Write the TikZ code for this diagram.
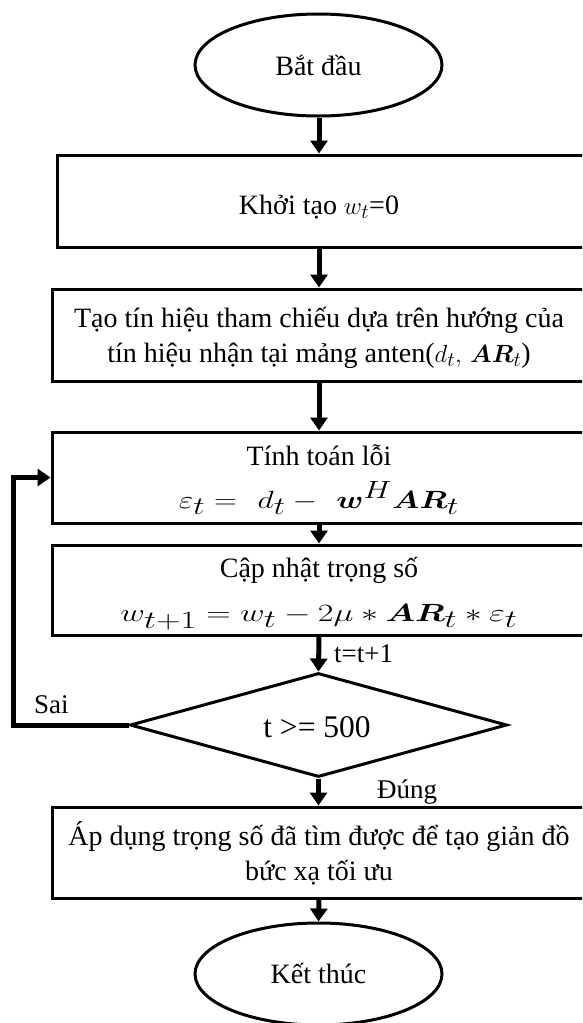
\documentclass[tikz,border=0pt]{standalone}
\usepackage{fontspec}
\setmainfont{Liberation Serif}
\usepackage{amsmath,bm,graphicx}
\usetikzlibrary{shapes.geometric,arrows.meta,calc}
\begin{document}
\begin{tikzpicture}[x=1pt,y=-1pt,
  boxst/.style={draw, line width=3pt, rectangle, inner sep=0pt, minimum width=620pt},
  ell/.style={draw, ellipse, line width=3pt, minimum width=247pt, minimum height=102pt, inner sep=0pt},
  arr/.style={line width=5pt, -{Triangle[width=17pt,length=13pt]}},
  txt/.style={font=\fontsize{28}{35}\selectfont, align=center, inner sep=0pt, anchor=base},
  lbl/.style={font=\fontsize{27}{30}\selectfont, inner sep=0pt, anchor=base},
  mth/.style={font=\fontsize{38}{40}\selectfont, inner sep=0pt, anchor=base}
]
\clip (0,0) rectangle (582,1023);
\coordinate (ax) at (319,0);
\coordinate (lx) at (13,0);

\node[ell] (start) at (318.5,65) {};
\node[boxst, minimum height=92pt] (box1) at (367.5,201) {};
\node[boxst, minimum height=92pt] (box2) at (362,335) {};
\node[boxst, minimum height=91pt] (box3) at (362,477.5) {};
\node[boxst, minimum height=90pt] (box4) at (362,590) {};
\node[draw, diamond, line width=3pt, minimum width=377pt, minimum height=104pt, inner sep=0pt] (dec) at (318.5,725) {};
\node[boxst, minimum height=91pt] (box5) at (362,852.5) {};
\node[ell] (stop) at (318.5,974) {};

\node[txt] (s0) at (318.5,75) {Bắt đầu};
\node[txt] (t1) at (319,214) {Khởi tạo {\fontsize{31}{35}\selectfont$w_t$}=0};
\node[txt] (t2a) at (319,327) {Tạo tín hiệu tham chiếu dựa trên hướng của};
\node[txt] (t2b) at (319,362) {tín hiệu nhận tại mảng anten({\fontsize{31}{35}\selectfont$d_t,\,\bm{AR}_t$})};
\node[txt] (t3a) at (319,465) {Tính toán lỗi};
\node[mth] (t3b) at (319,508) {\resizebox{280pt}{\height}{$\varepsilon_t =\ d_t -\ \bm{w}^H\bm{AR}_t$}};
\node[txt] (t4a) at (319,577) {Cập nhật trọng số};
\node[mth] (t4b) at (319,621) {\resizebox{397pt}{\height}{$w_{t+1} = w_t - 2\mu * \bm{AR}_t * \varepsilon_t$}};
\node[font=\fontsize{31.5}{35}\selectfont, inner sep=0pt, anchor=base] (dt) at (317,737) {t >= 500};
\node[txt] (t5a) at (319,845) {Áp dụng trọng số đã tìm được để tạo giản đồ};
\node[txt] (t5b) at (319,880) {bức xạ tối ưu};
\node[txt] (e0) at (318.5,983) {Kết thúc};

\draw[arr] (start.south -| ax) -- (box1.north -| ax);
\draw[arr] (box1.south -| ax) -- (box2.north -| ax);
\draw[arr] (box2.south -| ax) -- (box3.north -| ax);
\draw[arr] (box3.south -| ax) -- (box4.north -| ax);
\draw[arr] (box4.south -| ax) -- (dec.north);
\draw[arr] (dec.south) -- (dec.south |- box5.north);
\draw[arr] (box5.south -| ax) -- (stop.north);
\draw[arr] (dec.west) -- (dec.west -| lx) |- (box3.west);

\node[lbl, anchor=base west] (l1) at (334,662) {t=t+1};
\node[lbl, anchor=base west] (l2) at (34,713) {Sai};
\node[lbl, anchor=base west] (l3) at (377,798) {Đúng};
\end{tikzpicture}
\end{document}
